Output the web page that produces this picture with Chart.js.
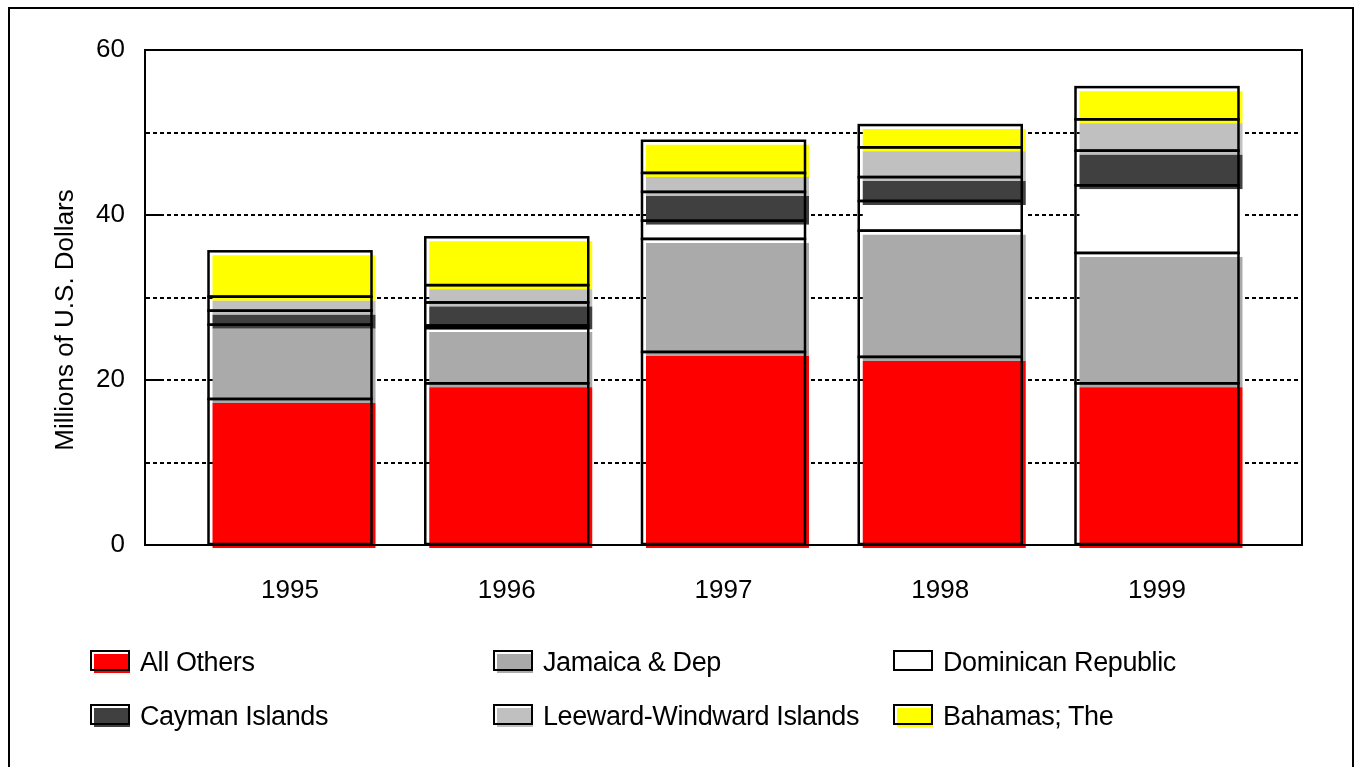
<!DOCTYPE html>
<html>
<head>
<meta charset="utf-8">
<script src="https://cdn.jsdelivr.net/npm/chart.js@4.4.1/dist/chart.umd.min.js"></script>
<style>
  html, body { margin: 0; padding: 0; background: #fff; }
  #wrap { position: relative; width: 1356px; height: 767px; font-family: "Liberation Sans", Arial, sans-serif; overflow: hidden; }
  #frame { position: absolute; left: 8px; top: 7px; width: 1346px; height: 780px; border: 2px solid #000; box-sizing: border-box; }
  #chart { position: absolute; left: 0; top: 0; }
  .item { position: absolute; height: 30px; display: flex; align-items: center; font-size: 27px; letter-spacing: -0.4px; color: #000; }
  .sw { position: relative; width: 42px; height: 24px; margin-right: 8px; }
  .sw .fill { position: absolute; left: 4px; top: 4px; width: 36px; height: 19px; }
  .sw .line { position: absolute; left: 0; top: 0; width: 40px; height: 21px; border: 2px solid #000; box-sizing: border-box; }
</style>
</head>
<body>
<div id="wrap">
  <canvas id="chart" width="1356" height="767"></canvas>
  <div id="frame"></div>
  <div id="legend"></div>
</div>
<script>
const years = ['1995', '1996', '1997', '1998', '1999'];
const seriesNames = ['All Others', 'Jamaica & Dep', 'Dominican Republic', 'Cayman Islands', 'Leeward-Windward Islands', 'Bahamas; The'];
const allOthers = [17.7, 19.6, 23.4, 22.8, 19.6];
const jamaica = [9.0, 6.7, 13.7, 15.3, 15.8];
const dominican = [0, 0.3, 2.2, 3.6, 8.2];
const cayman = [1.7, 2.8, 3.5, 2.9, 4.2];
const leeward = [1.7, 2.1, 2.3, 3.6, 3.8];
const bahamas = [5.5, 5.8, 3.9, 2.7, 3.9];
const yTicks = [0, 20, 40, 60];
const colors = ['#ff0000', '#aaaaaa', '#ffffff', '#404040', '#c0c0c0', '#ffff00'];
const yTitle = 'Millions of U.S. Dollars';

const values = [allOthers, jamaica, dominican, cayman, leeward, bahamas];

// fill shifted a few px right/down, black outline at true position
const shadowBars = {
  id: 'shadowBars',
  beforeDatasetsDraw(chart) {
    chart.ctx.save();
    chart.ctx.translate(4, 4);
  },
  afterDatasetsDraw(chart) {
    const ctx = chart.ctx;
    ctx.restore();
    ctx.save();
    ctx.strokeStyle = '#000';
    ctx.lineWidth = 2.5;
    chart.data.datasets.forEach((ds, i) => {
      chart.getDatasetMeta(i).data.forEach((bar, j) => {
        if (!ds.data[j].y) return;
        const p = bar.getProps(['x', 'y', 'base', 'width'], true);
        ctx.strokeRect(p.x - p.width / 2, p.y, p.width, p.base - p.y);
      });
    });
    // plot frame + tick marks (inside)
    const a = chart.chartArea;
    const y = chart.scales.y;
    ctx.lineWidth = 2;
    ctx.strokeRect(a.left, a.top, a.right - a.left, a.bottom - a.top);
    [10, 20, 30, 40, 50].forEach(v => {
      const py = Math.round(y.getPixelForValue(v));
      ctx.beginPath();
      ctx.moveTo(a.left, py);
      ctx.lineTo(a.left + (v % 20 === 0 ? 17 : 4), py);
      ctx.stroke();
    });
    // y axis title
    ctx.font = '26px "Liberation Sans"';
    ctx.fillStyle = '#000';
    ctx.textAlign = 'center';
    ctx.textBaseline = 'middle';
    ctx.translate(66, 320);
    ctx.rotate(-Math.PI / 2);
    ctx.fillText(yTitle, 0, 0);
    ctx.restore();
  }
};

new Chart(document.getElementById('chart'), {
  type: 'bar',
  data: {
    datasets: seriesNames.map((name, i) => ({
      label: name,
      data: years.map((_, j) => ({ x: j, y: values[i][j] })),
      backgroundColor: colors[i],
      borderWidth: 0,
      clip: false
    }))
  },
  options: {
    responsive: false,
    animation: false,
    barPercentage: 0.752,
    categoryPercentage: 1,
    layout: { padding: { top: 50, right: 54, bottom: 0, left: 0 } },
    plugins: { legend: { display: false }, tooltip: { enabled: false } },
    scales: {
      x: {
        type: 'linear',
        stacked: true,
        offset: false,
        min: -0.669,
        max: 4.669,
        afterBuildTicks(scale) {
          scale.ticks = years.map((_, j) => ({ value: j }));
        },
        grid: { display: false },
        border: { color: '#000', width: 2 },
        ticks: {
          color: '#000',
          padding: 22,
          font: { family: 'Liberation Sans', size: 26 },
          callback: v => years[v]
        },
        afterFit(scale) { scale.height = 222; }
      },
      y: {
        stacked: true,
        min: 0,
        max: 60,
        afterBuildTicks(scale) {
          scale.ticks = [0, 10, 20, 30, 40, 50, 60].map(v => ({ value: v }));
        },
        grid: {
          color: ctx => (ctx.tick && (ctx.tick.value === 0 || ctx.tick.value === 60)) ? 'rgba(0,0,0,0)' : '#000',
          lineWidth: 2,
          drawTicks: false
        },
        border: { color: '#000', width: 2, dash: [4, 3] },
        ticks: {
          color: '#000',
          padding: 20,
          font: { family: 'Liberation Sans', size: 26 },
          callback: v => yTicks.includes(v) ? v : ''
        },
        afterFit(scale) { scale.width = 145; }
      }
    }
  },
  plugins: [shadowBars]
});

// legend, 3 columns x 2 rows
const legend = document.getElementById('legend');
const colX = [90, 493, 893];
const rowY = [647, 701];
seriesNames.forEach((name, i) => {
  const el = document.createElement('div');
  el.className = 'item';
  el.style.left = colX[i % 3] + 'px';
  el.style.top = rowY[Math.floor(i / 3)] + 'px';
  el.innerHTML = '<div class="sw"><div class="fill" style="background:' + colors[i] + '"></div><div class="line"></div></div>';
  const t = document.createElement('span');
  t.textContent = name;
  el.appendChild(t);
  legend.appendChild(el);
});
</script>
</body>
</html>
